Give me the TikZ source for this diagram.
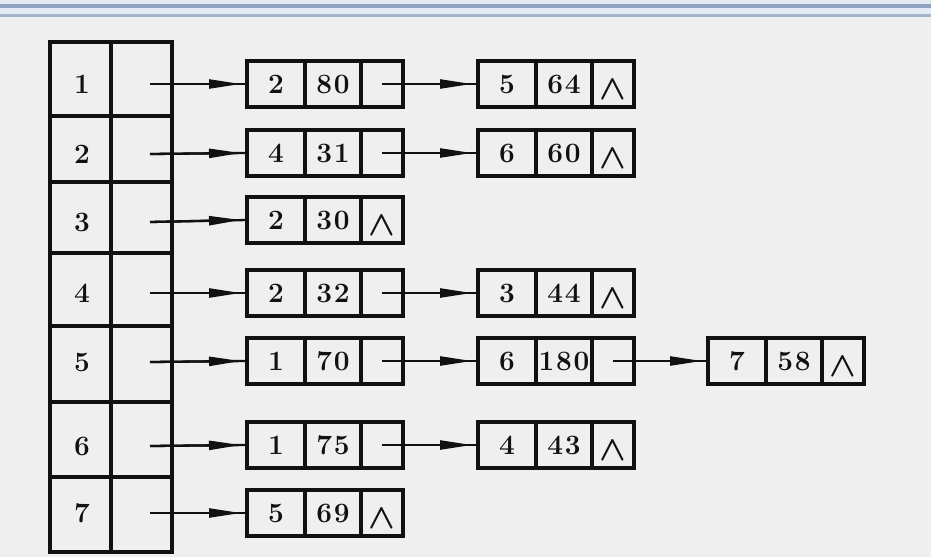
\documentclass[tikz,border=0pt]{standalone}
\usepackage{fontspec}
\usepackage{graphicx}
\newfontfamily\digfont[LetterSpace=6]{Latin Modern Roman}
\usetikzlibrary{arrows.meta,calc}
\definecolor{bg}{HTML}{EFEFEF}
\definecolor{ink}{HTML}{111111}
\definecolor{band}{HTML}{8DA3C0}
\definecolor{bandlight}{HTML}{E4EAF1}
\definecolor{bandline}{HTML}{A3B4CA}
\newcommand\nil{\raisebox{-6pt}[0pt][0pt]{\scalebox{1.4}{\fontsize{24.88}{24.88}\selectfont\boldmath$\wedge$}}}
\newcommand\lnode[6]{%
  \node[cell,minimum width=58pt] (#1a) at (#2,#3) {#4};
  \node[cell,minimum width=56pt] (#1b) at (#1a.east) {#5};
  \node[cell,minimum width=42pt] (#1c) at (#1b.east) {#6};}
\newcommand\arr[2]{%
  \draw[link] (#1) -- (#2);
  \draw[link,-{Triangle[length=32pt,width=9pt]}] (#1) -- ($(#2)+(-6,0)$);}
\begin{document}
\begin{tikzpicture}[x=1pt,y=-1pt,
  txt/.style={font=\fontsize{28}{28}\selectfont\digfont\bfseries, text=ink, text height=18pt, text depth=0pt, inner sep=0pt},
  cell/.style={txt, draw=ink, line width=3.2pt, minimum height=46pt, outer sep=0pt, anchor=west},
  tcell/.style={draw=ink, line width=3.3pt, minimum width=61pt, inner sep=0pt, outer sep=0pt},
  link/.style={draw=ink, line width=2.3pt}]
% background and top bar
\fill[bg] (0,0) rectangle (931,557);
\useasboundingbox (0,0) rectangle (931,557);
\fill[bandlight] (0,0) rectangle (931,17);
\fill[band] (0,4) rectangle (931,7.5);
\fill[bandline] (0,14) rectangle (931,16.5);
% table
\foreach \i/\t/\b/\ry in {1/42/116/84, 2/116/182/154, 3/182/253/222, 4/253/326/293, 5/326/402/362, 6/402/477/446, 7/477/552/513}{
  \node[tcell, minimum height={\b-\t}] (t\i a) at (80.5,{(\t+\b)/2}) {};
  \node[tcell, minimum height={\b-\t}] (t\i b) at (141.5,{(\t+\b)/2}) {};
  \node[txt] (k\i) at (82,\ry) {\i};
  \coordinate (s\i) at (150,\ry);
}
% lists
\lnode{p1}{247}{84}{2}{80}{}
\lnode{q1}{478}{84}{5}{64}{\nil}
\lnode{p2}{247}{153}{4}{31}{}
\lnode{q2}{478}{153}{6}{60}{\nil}
\lnode{p3}{247}{220}{2}{30}{\nil}
\lnode{p4}{247}{293}{2}{32}{}
\lnode{q4}{478}{293}{3}{44}{\nil}
\lnode{p5}{247}{361}{1}{70}{}
\lnode{q5}{478}{361}{6}{180}{}
\lnode{r5}{708}{361}{7}{58}{\nil}
\lnode{p6}{247}{445}{1}{75}{}
\lnode{q6}{478}{445}{4}{43}{\nil}
\lnode{p7}{247}{513}{5}{69}{\nil}
% arrows
\foreach \i in {1,...,7}{\arr{s\i}{p\i a.west}}
\arr{p1c.center}{q1a.west}
\arr{p2c.center}{q2a.west}
\arr{p4c.center}{q4a.west}
\arr{p5c.center}{q5a.west}
\arr{q5c.center}{r5a.west}
\arr{p6c.center}{q6a.west}
\end{tikzpicture}
\end{document}
